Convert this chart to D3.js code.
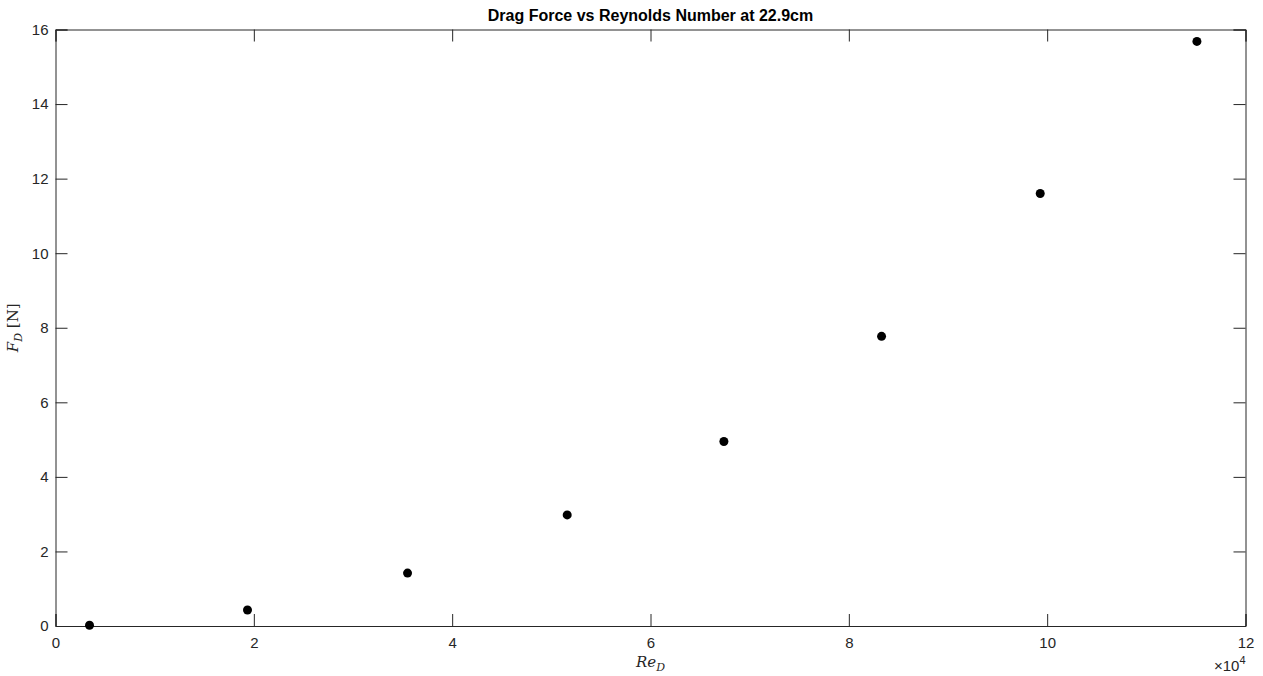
<!DOCTYPE html>
<html>
<head>
<meta charset="utf-8">
<script src="https://cdn.jsdelivr.net/npm/d3@7"></script>
<style>
  body { margin: 0; background: #fff; }
  .tick text { font-family: "Liberation Sans", Arial, sans-serif; font-size: 15px; fill: #262626; }
</style>
</head>
<body>
<script>
// Reynolds number (x 10^4) and drag force [N]
var reynolds = [0.343, 1.936, 3.55, 5.16, 6.74, 8.33, 9.93, 11.51];
var dragForce = [0.02, 0.43, 1.42, 2.98, 4.95, 7.77, 11.6, 15.68];
var xTicks = [0, 2, 4, 6, 8, 10, 12];
var yTicks = [0, 2, 4, 6, 8, 10, 12, 14, 16];

var width = 1263, height = 676;
var mLeft = 55.5, mRight = 1245.5, mTop = 29.5, mBottom = 626;

var svg = d3.select('body')
  .append('svg')
  .attr('width', width)
  .attr('height', height);

var xScale = d3.scaleLinear().domain([0, 12]).range([mLeft, mRight]),
  yScale = d3.scaleLinear().domain([0, 16]).range([mBottom, mTop]);

var axisColor = '#262626';

//bottom and top axes
var xb = svg.append('g')
  .attr('transform', 'translate(0,' + mBottom + ')')
  .call(d3.axisBottom(xScale).tickValues(xTicks).tickSize(-12).tickPadding(11));
var xt = svg.append('g')
  .attr('transform', 'translate(0,' + mTop + ')')
  .call(d3.axisTop(xScale).tickValues(xTicks).tickSize(-12).tickFormat(''));

//left and right axes
var yl = svg.append('g')
  .attr('transform', 'translate(' + mLeft + ',0)')
  .call(d3.axisLeft(yScale).tickValues(yTicks).tickSize(-12).tickPadding(7));
var yr = svg.append('g')
  .attr('transform', 'translate(' + mRight + ',0)')
  .call(d3.axisRight(yScale).tickValues(yTicks).tickSize(-12).tickFormat(''));

[xb, xt, yl, yr].forEach(function (a) {
  a.select('.domain').attr('stroke', axisColor).attr('stroke-width', 1);
  a.selectAll('.tick line').attr('stroke', axisColor).attr('stroke-width', 1);
  a.selectAll('.tick text').attr('fill', axisColor);
});

//exponent label
var expo = svg.append('text')
  .attr('x', mRight)
  .attr('y', 671)
  .attr('text-anchor', 'end')
  .style('font-family', '"Liberation Sans", Arial, sans-serif')
  .style('font-size', '15px')
  .attr('fill', axisColor);
expo.append('tspan').text('\u00d710');
expo.append('tspan').attr('dy', -7).style('font-size', '11px').text('4');

//title
svg.append('text')
  .attr('x', (mLeft + mRight) / 2)
  .attr('y', 21)
  .attr('text-anchor', 'middle')
  .style('font-family', '"Liberation Sans", Arial, sans-serif')
  .style('font-size', '16px')
  .style('font-weight', 'bold')
  .attr('fill', '#000')
  .text('Drag Force vs Reynolds Number at 22.9cm');

//x label
var xl = svg.append('text')
  .attr('x', (mLeft + mRight) / 2)
  .attr('y', 667)
  .attr('text-anchor', 'middle')
  .style('font-family', '"DejaVu Serif", "Liberation Serif", serif')
  .style('font-style', 'italic')
  .style('font-size', '15px')
  .attr('fill', axisColor);
xl.append('tspan').text('Re');
xl.append('tspan').attr('dy', 4).style('font-size', '11px').text('D');

//y label
var ylab = svg.append('text')
  .attr('transform', 'translate(18,' + ((mTop + mBottom) / 2) + ') rotate(-90)')
  .attr('text-anchor', 'middle')
  .style('font-family', '"DejaVu Serif", "Liberation Serif", serif')
  .style('font-size', '15px')
  .attr('fill', axisColor);
ylab.append('tspan').style('font-style', 'italic').text('F');
ylab.append('tspan').attr('dy', 4).style('font-style', 'italic').style('font-size', '11px').text('D');
ylab.append('tspan').attr('dy', -4).text(' [N]');

//data points
svg.append('g')
  .selectAll('circle')
  .data(reynolds)
  .enter()
  .append('circle')
  .attr('cx', function (d) { return xScale(d); })
  .attr('cy', function (d, i) { return yScale(dragForce[i]); })
  .attr('r', 4.5)
  .style('fill', '#000');
</script>
</body>
</html>
